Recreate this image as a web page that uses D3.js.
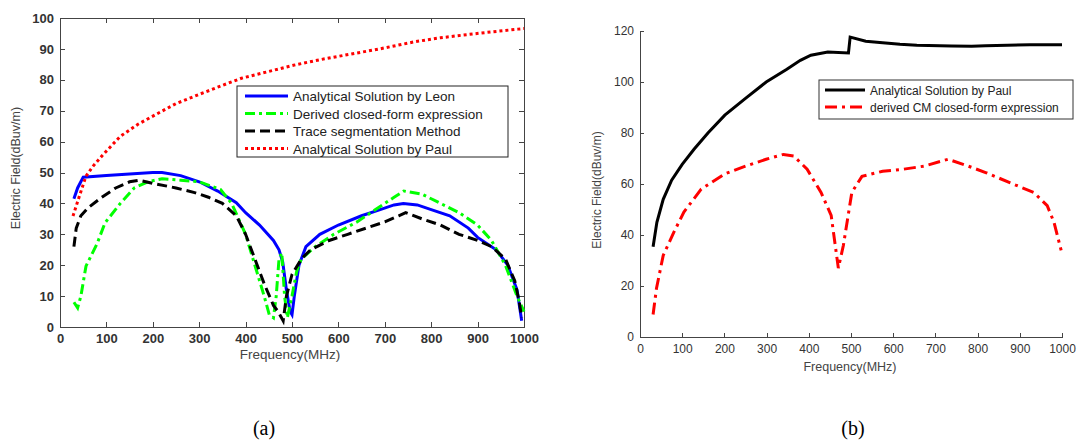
<!DOCTYPE html>
<html lang="en">
<head>
  <meta charset="UTF-8">
  <title>Electric Field vs Frequency</title>
  <script src="https://d3js.org/d3.v7.min.js"></script>
  <style>
    body { margin: 0; background: #fff; }
    .tick text { fill: #333; }
    .axis path, .axis line { stroke: #444; fill: none; shape-rendering: crispEdges; }
    .ytitle, .xtitle { fill: #444; font-family: "Liberation Sans", Arial, sans-serif; }
    .legend text { font-family: "Liberation Sans", Arial, sans-serif; fill: #222; }
    .caption { font-family: "Liberation Serif", "Times New Roman", serif; font-size: 20px; fill: #000; }
  </style>
</head>
<body>
  <svg id="chart" width="1078" height="441"></svg>
  <script>
    // ---- panel (a) data ----
    const leonF = [30, 38, 50, 100, 150, 200, 220, 260, 300, 340, 380, 400, 430, 460, 472, 480, 488, 496, 500, 505, 515, 530, 560, 600, 650, 690, 720, 740, 770, 800, 840, 880, 900, 940, 965, 985, 995];
    const leonV = [41.5, 45, 48.5, 49, 49.5, 50, 50, 49, 47, 44, 40.2, 37, 33, 28, 25, 21, 12, 5, 4, 10, 20, 26, 30, 33, 36, 38, 39.5, 40, 39.5, 38, 36, 32, 29, 25, 20, 12, 2];

    const derivedF = [30, 38, 45, 56, 80, 97, 130, 160, 190, 220, 260, 300, 346, 370, 400, 420, 440, 451, 460, 466, 472, 478, 484, 490, 500, 510, 520, 550, 590, 640, 680, 720, 741, 780, 820, 860, 900, 930, 960, 985, 1000];
    const derivedV = [8, 6.2, 10, 19.7, 27, 33.7, 40, 45, 47, 48, 47.5, 47, 44.5, 40, 30, 20, 10, 4, 3, 10, 22, 24, 10, 3, 10, 18, 22, 26, 30, 34, 38, 42, 44, 43, 40, 37, 33, 28, 20, 10, 5];

    const traceF = [30, 35, 45, 60, 90, 120, 150, 170, 200, 250, 290, 320, 350, 380, 400, 420, 440, 460, 470, 481, 488, 500, 520, 540, 580, 620, 660, 700, 730, 745, 780, 820, 860, 900, 930, 960, 980, 990, 995];
    const traceV = [26, 32, 36, 38.5, 42, 45, 47, 47.5, 46.5, 45, 43.5, 42, 40, 36, 30, 22, 14, 7, 5, 2, 10, 17, 22, 25, 28, 30, 32, 34, 36, 37, 35, 33, 30, 28, 26, 22, 15, 8, 3];

    const paulAF = [28, 41, 56, 71, 93, 130, 168, 197, 250, 302, 350, 391, 450, 503, 560, 615, 689, 764, 820, 876, 930, 987, 1000];
    const paulAV = [35.9, 42, 48.8, 52, 55.8, 61.7, 65.6, 68, 72.3, 75.4, 78.2, 80.5, 82.7, 84.7, 86.5, 88, 90, 92.3, 93.6, 94.6, 95.5, 96.4, 96.6];

    // ---- panel (b) data ----
    const paulBF = [31, 40, 55, 75, 100, 128, 161, 201, 250, 299, 348, 380, 405, 445, 494, 498, 535, 575, 616, 656, 738, 786, 819, 924, 1000];
    const paulBV = [35.4, 45, 54, 61.5, 67.7, 73.6, 80, 87, 93.6, 100, 105, 108.5, 110.5, 111.8, 111.4, 117.6, 116, 115.4, 114.8, 114.4, 114.1, 114, 114.2, 114.6, 114.6];

    const cmF = [31, 39, 55, 80, 104, 145, 201, 250, 299, 340, 364, 396, 429, 453, 470, 482, 502, 526, 575, 624, 673, 730, 778, 819, 884, 933, 965, 981, 998];
    const cmV = [8.8, 19, 32, 41, 49, 58, 64, 67, 69.7, 71.6, 71, 65.8, 56.7, 47.7, 27, 36, 56.7, 63, 65, 65.8, 67, 69.7, 67, 64.5, 60, 56.7, 51.5, 45, 34];

    const xTicks = [0, 100, 200, 300, 400, 500, 600, 700, 800, 900, 1000];
    const yTicksA = [0, 10, 20, 30, 40, 50, 60, 70, 80, 90, 100];
    const yTicksB = [0, 20, 40, 60, 80, 100, 120];

    const legendA = ["Analytical Solution by Leon", "Derived closed-form expression", "Trace segmentation Method", "Analytical Solution by Paul"];
    const legendB = ["Analytical Solution  by Paul", "derived CM closed-form expression"];

    const svg = d3.select("#chart");

    function pts(fs, vs) { return fs.map((f, i) => [f, vs[i]]); }

    // ================= panel (a) =================
    const xA = d3.scaleLinear().domain([0, 1000]).range([60, 524]);
    const yA = d3.scaleLinear().domain([0, 100]).range([327, 18]);
    const gA = svg.append("g");
    const tickFontA = "bold 13px 'Liberation Sans', Arial, sans-serif";

    // box + ticks on all sides (inward)
    gA.append("g").attr("class", "axis").attr("transform", "translate(0,327)")
      .call(d3.axisBottom(xA).tickValues(xTicks).tickSize(-5).tickPadding(7).tickFormat(d3.format("d")))
      .call(g => g.selectAll("text").style("font", tickFontA));
    gA.append("g").attr("class", "axis").attr("transform", "translate(0,18)")
      .call(d3.axisTop(xA).tickValues(xTicks).tickSize(-5).tickFormat(""));
    gA.append("g").attr("class", "axis").attr("transform", "translate(60,0)")
      .call(d3.axisLeft(yA).tickValues(yTicksA).tickSize(-5).tickPadding(6))
      .call(g => g.selectAll("text").style("font", tickFontA));
    gA.append("g").attr("class", "axis").attr("transform", "translate(524,0)")
      .call(d3.axisRight(yA).tickValues(yTicksA).tickSize(-5).tickFormat(""));

    const lineA = d3.line().x(d => xA(d[0])).y(d => yA(d[1]));
    const seriesA = [
      { f: leonF, v: leonV, color: "#0000ff", dash: null },
      { f: derivedF, v: derivedV, color: "#00ff00", dash: "10,4,3,4" },
      { f: traceF, v: traceV, color: "#000000", dash: "10,5" },
      { f: paulAF, v: paulAV, color: "#ff0000", dash: "3,3" }
    ];
    seriesA.forEach(s => {
      gA.append("path").datum(pts(s.f, s.v))
        .attr("fill", "none").attr("stroke", s.color).attr("stroke-width", 3)
        .attr("stroke-dasharray", s.dash).attr("d", lineA);
    });

    gA.append("text").attr("class", "xtitle").attr("x", 290).attr("y", 359)
      .attr("text-anchor", "middle").style("font-size", "13.5px").text("Frequency(MHz)");
    gA.append("text").attr("class", "ytitle")
      .attr("transform", "translate(20,168) rotate(-90)")
      .attr("text-anchor", "middle").style("font-size", "12.5px").text("Electric Field(dBuv/m)");

    // legend (a)
    const legA = gA.append("g").attr("class", "legend");
    legA.append("rect").attr("x", 237).attr("y", 86).attr("width", 271).attr("height", 71)
      .attr("fill", "#fff").attr("stroke", "#222").attr("stroke-width", 1);
    legendA.forEach((name, i) => {
      const yy = 96 + i * 17.5;
      legA.append("line").attr("x1", 245).attr("x2", 288).attr("y1", yy).attr("y2", yy)
        .attr("stroke", seriesA[i].color).attr("stroke-width", 3).attr("stroke-dasharray", seriesA[i].dash);
      legA.append("text").attr("x", 293).attr("y", yy + 5).style("font-size", "13.5px").text(name);
    });

    // ================= panel (b) =================
    const xB = d3.scaleLinear().domain([0, 1000]).range([640, 1062]);
    const yB = d3.scaleLinear().domain([0, 120]).range([337, 31]);
    const gB = svg.append("g");
    const tickFontB = "12px 'Liberation Sans', Arial, sans-serif";

    gB.append("g").attr("class", "axis").attr("transform", "translate(0,337)")
      .call(d3.axisBottom(xB).tickValues(xTicks).tickSize(-4).tickSizeOuter(0).tickPadding(7).tickFormat(d3.format("d")))
      .call(g => g.selectAll("text").style("font", tickFontB));
    gB.append("g").attr("class", "axis").attr("transform", "translate(640,0)")
      .call(d3.axisLeft(yB).tickValues(yTicksB).tickSize(-4).tickSizeOuter(0).tickPadding(6))
      .call(g => g.selectAll("text").style("font", tickFontB));

    const lineB = d3.line().x(d => xB(d[0])).y(d => yB(d[1]));
    const seriesB = [
      { f: paulBF, v: paulBV, color: "#000000", dash: null },
      { f: cmF, v: cmV, color: "#ff0000", dash: "12,5,3,5" }
    ];
    seriesB.forEach(s => {
      gB.append("path").datum(pts(s.f, s.v))
        .attr("fill", "none").attr("stroke", s.color).attr("stroke-width", 3)
        .attr("stroke-dasharray", s.dash).attr("d", lineB);
    });

    gB.append("text").attr("class", "xtitle").attr("x", 850).attr("y", 371)
      .attr("text-anchor", "middle").style("font-size", "12.5px").text("Frequency(MHz)");
    gB.append("text").attr("class", "ytitle")
      .attr("transform", "translate(601,190) rotate(-90)")
      .attr("text-anchor", "middle").style("font-size", "12px").text("Electric Field(dBuv/m)");

    // legend (b)
    const legB = gB.append("g").attr("class", "legend");
    legB.append("rect").attr("x", 819).attr("y", 80).attr("width", 254).attr("height", 39)
      .attr("fill", "#fff").attr("stroke", "#333").attr("stroke-width", 1);
    legendB.forEach((name, i) => {
      const yy = 90 + i * 17;
      legB.append("line").attr("x1", 825).attr("x2", 865).attr("y1", yy).attr("y2", yy)
        .attr("stroke", seriesB[i].color).attr("stroke-width", 3).attr("stroke-dasharray", seriesB[i].dash);
      legB.append("text").attr("x", 870).attr("y", yy + 4.5).style("font-size", "12px").text(name);
    });

    // captions
    svg.append("text").attr("class", "caption").attr("x", 264).attr("y", 435)
      .attr("text-anchor", "middle").text("(a)");
    svg.append("text").attr("class", "caption").attr("x", 853).attr("y", 435)
      .attr("text-anchor", "middle").text("(b)");
  </script>
</body>
</html>
